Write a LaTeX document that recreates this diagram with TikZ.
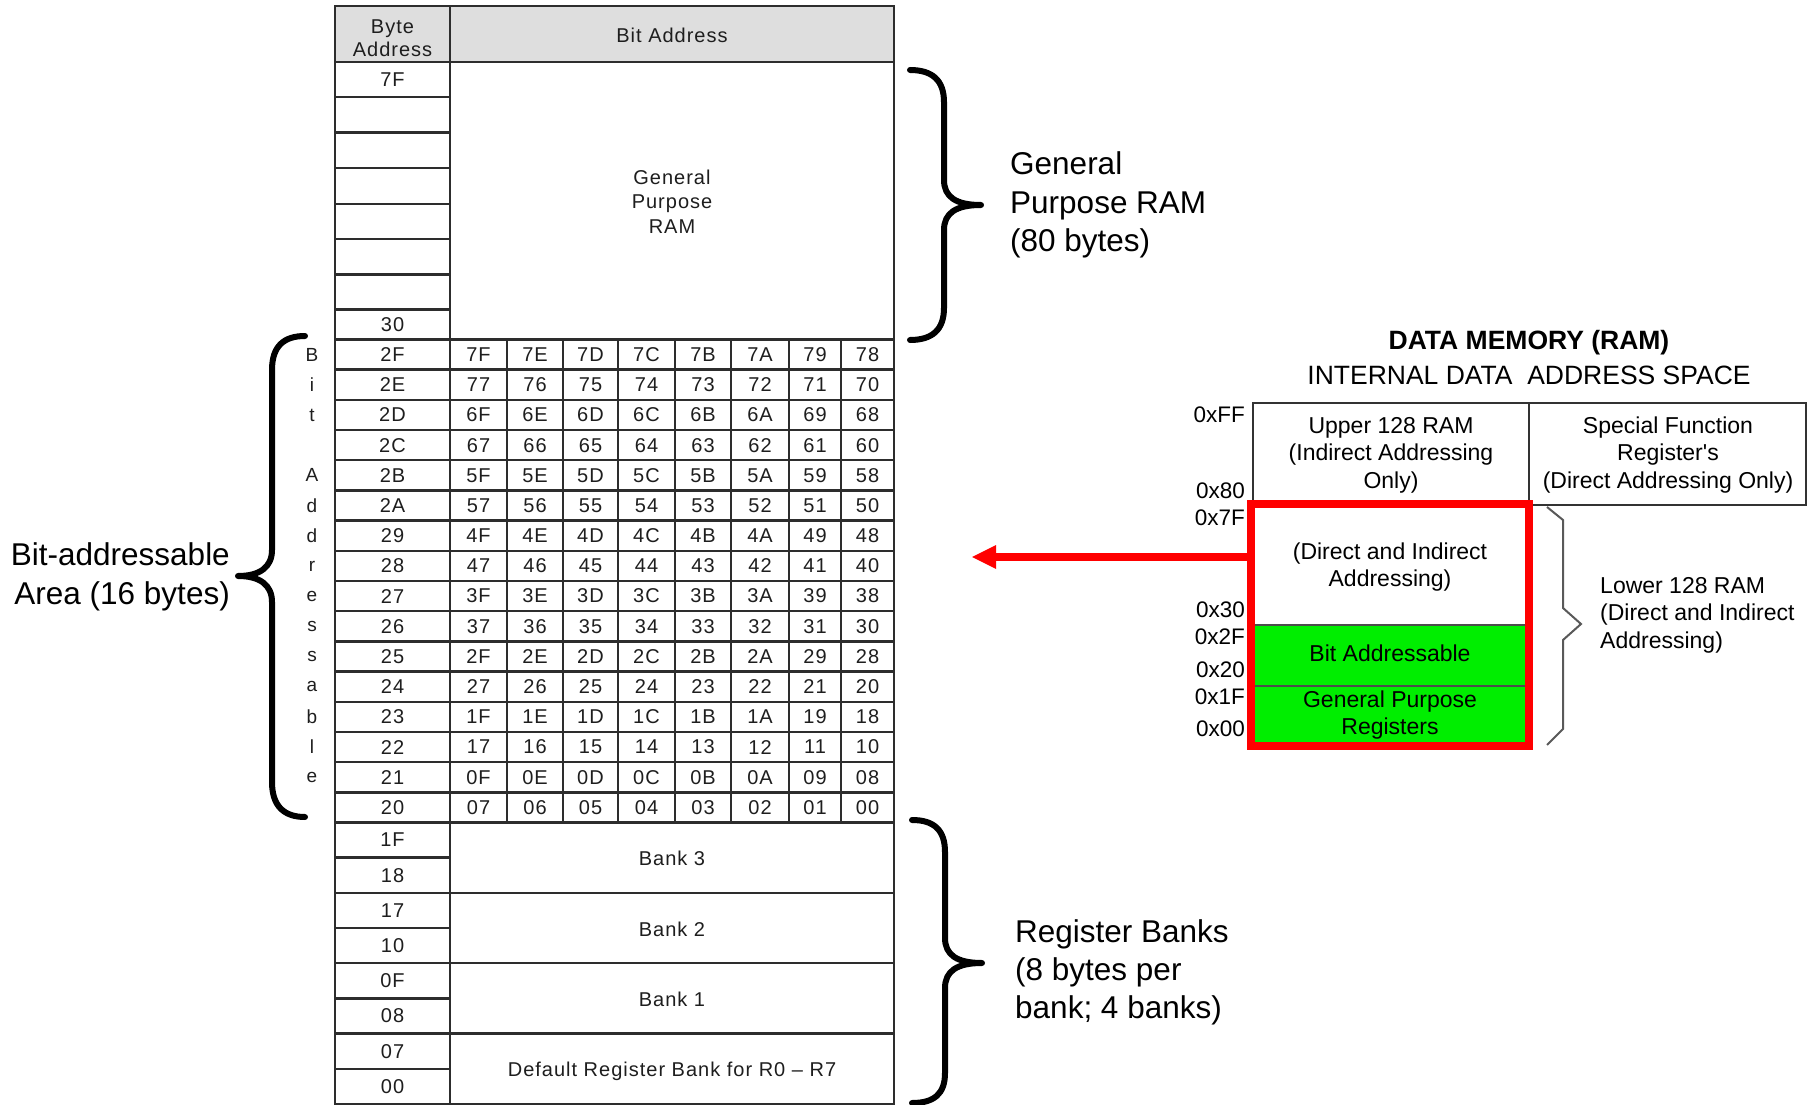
\documentclass[tikz,border=0pt]{standalone}
\usepackage{fontspec}
\setmainfont{Liberation Sans}
\newfontfamily\tabfont[LetterSpace=5]{Liberation Sans}
\newfontfamily\rawfont[Ligatures=TeXOff]{Liberation Sans}
\usetikzlibrary{arrows.meta}
\definecolor{redc}{RGB}{255,0,0}
\definecolor{greenc}{RGB}{0,238,0}
\definecolor{hdr}{RGB}{222,222,222}
\definecolor{gridc}{RGB}{45,45,45}
\definecolor{txtc}{RGB}{30,30,30}
\begin{document}
\begin{tikzpicture}[x=1pt,y=-1pt,
  grid/.style={line width=2.4pt, draw=gridc},
  tab/.style={font=\tabfont\fontsize{20}{24.6}\selectfont, inner sep=0pt, text=txtc, align=center},
  vlet/.style={font=\tabfont\fontsize{19}{22}\selectfont, inner sep=0pt, text=txtc},
  big/.style={font=\fontsize{31.5}{38.5}\selectfont, inner sep=0pt},
  mem/.style={font=\fontsize{23}{27.5}\selectfont, inner sep=0pt, align=center},
  addr/.style={font=\fontsize{22.5}{27}\selectfont, inner sep=0pt, anchor=east},
  bracestyle/.style={line width=6pt, line cap=round, line join=round, draw=black},
  thinbrace/.style={line width=2pt, draw=black!65},
  boxline/.style={line width=2pt, draw=black!80}]
\useasboundingbox (0,0) rectangle (1816,1105);
\fill[white] (0,0) rectangle (1816,1105);

% ---------------- table ----------------
\fill[hdr] (335,6) rectangle (894,62);
\draw[grid] (335,6) rectangle (894,1104);
\draw[grid] (450,6) -- (450,1104);
\draw[grid] (335,62) -- (894,62);
\foreach \y in {97,132.5,168,204,239,274.5,309.5} \draw[grid] (335,\y) -- (450,\y);
\draw[grid] (335,339.5) -- (894,339.5);
\foreach \k in {1,...,16} {\pgfmathsetmacro\yy{339.5+30.1875*\k} \draw[grid] (335,\yy) -- (894,\yy);}
\foreach \x in {507,563,618,675,731,789,841} \draw[grid] (\x,339.5) -- (\x,822.5);
\foreach \k in {1,3,5,7} {\pgfmathsetmacro\yy{822.5+35.1875*\k} \draw[grid] (335,\yy) -- (450,\yy);}
\foreach \k in {2,4,6} {\pgfmathsetmacro\yy{822.5+35.1875*\k} \draw[grid] (335,\yy) -- (894,\yy);}

\node[tab, font=\tabfont\fontsize{20}{23.5}\selectfont] (hbyte) at (392.5,38) {Byte\\Address};
\node[tab] (hbit) at (672,35.5) {Bit Address};
\node[tab] (r7F) at (392.5,79.5) {7F};
\node[tab] (r30) at (392.5,324.5) {30};
\node[tab] (gpram) at (672,201.5) {General\\Purpose\\RAM};

\def\listA{F/478.5,E/535,D/590.5,C/646.5,B/703,A/760,9/815,8/867.5}
\def\listB{7/478.5,6/535,5/590.5,4/646.5,3/703,2/760,1/815,0/867.5}
\foreach \byte/\d/\h [count=\r from 0] in {2F/7/1,2E/7/0,2D/6/1,2C/6/0,2B/5/1,2A/5/0,29/4/1,28/4/0,27/3/1,26/3/0,25/2/1,24/2/0,23/1/1,22/1/0,21/0/1,20/0/0}{
  \pgfmathsetmacro\yc{339.5+30.1875*(\r+0.5)}
  \node[tab] (by\byte) at (392.5,\yc) {\byte};
  \ifnum\h=1 \let\sufs\listA \else \let\sufs\listB \fi
  \foreach \s/\cx in \sufs {\node[tab] (b\d\s) at (\cx,\yc) {\d\s};}
}
\foreach \r/\L in {0/B,1/i,2/t,4/A,5/d,6/d,7/r,8/e,9/s,10/s,11/a,12/b,13/l,14/e}{
  \pgfmathsetmacro\yc{339.5+30.1875*(\r+0.5)}
  \node[vlet] (v\r) at (312,\yc) {\L};
}
\foreach \b [count=\k from 0] in {1F,18,17,10,0F,08,07,00}{
  \pgfmathsetmacro\yc{822.5+35.1875*(\k+0.5)}
  \node[tab] (bk\b) at (392.5,\yc) {\b};
}
\node[tab] (bank3) at (672,858.5) {Bank 3};
\node[tab] (bank2) at (672,929) {Bank 2};
\node[tab] (bank1) at (672,999.5) {Bank 1};
\node[tab] (bank0) at (672,1071) {Default Register Bank for R0 – R7};

% ---------------- braces and labels ----------------
\draw[bracestyle] (305,336) .. controls (284,336) and (272,346) .. (272,370) -- (272,550)
  .. controls (272,567) and (260,576) .. (238,576) .. controls (260,576) and (272,585) .. (272,602)
  -- (272,782) .. controls (272,806) and (284,817) .. (305,817);
\node[big, anchor=east, align=right] (bitlabel) at (230,577) {Bit-addressable\\Area (16 bytes)};

\draw[bracestyle] (910,70) .. controls (932,70) and (944,80) .. (944,102) -- (944,180)
  .. controls (944,197) and (956,205) .. (981,205) .. controls (956,205) and (944,213) .. (944,230)
  -- (944,308) .. controls (944,330) and (932,340) .. (910,340);
\node[big, anchor=west, align=left] (gplabel) at (1010,205) {General\\Purpose RAM\\(80 bytes)};

\draw[bracestyle] (912,820) .. controls (934,820) and (945,830) .. (945,852) -- (945,938)
  .. controls (945,955) and (957,963) .. (982,963) .. controls (957,963) and (945,971) .. (945,988)
  -- (945,1073) .. controls (945,1094) and (934,1103) .. (912,1103);
\node[big, anchor=west, align=left, font=\fontsize{31.5}{38}\selectfont] (rblabel) at (1015,972) {Register Banks\\(8 bytes per\\bank; 4 banks)};

% ---------------- memory map ----------------
\node[inner sep=0pt, font=\bfseries\fontsize{26.5}{30}\selectfont] (title) at (1529,343) {DATA MEMORY (RAM)};
\node[inner sep=0pt, font=\fontsize{26.5}{30}\selectfont] (subtitle) at (1529,375) {INTERNAL DATA\ \ ADDRESS SPACE};

\node[boxline, rectangle, minimum width=276pt, minimum height=102pt, inner sep=0pt] (upper) at (1391,454) {};
\node[boxline, rectangle, minimum width=277pt, minimum height=102pt, inner sep=0pt] (sfr) at (1667.5,454) {};
\node[mem] (uppertxt) at (1391,455) {Upper 128 RAM\\(Indirect Addressing\\Only)};
\node[mem, font=\rawfont\fontsize{23}{27.5}\selectfont] (sfrtxt) at (1668,455) {Special Function\\Register's\\(Direct Addressing Only)};

\fill[greenc] (1251,625) rectangle (1529,745.5);
\draw[line width=2pt, draw=black!70] (1251,625) -- (1529,625);
\draw[line width=2pt, draw=black!70] (1251,685.5) -- (1529,685.5);
\node[draw=redc, line width=8pt, rectangle, minimum width=278pt, minimum height=241.5pt, inner sep=0pt] (redbox) at (1390,624.75) {};
\node[mem] (dirtxt) at (1390,567) {(Direct and Indirect\\Addressing)};
\node[mem] (bittxt) at (1390,653) {Bit Addressable};
\node[mem] (gprtxt) at (1390,715) {General Purpose\\Registers};

\draw[thinbrace] (1547,507) -- (1563,520) -- (1563,608) -- (1581,624) -- (1563,640) -- (1563,729) -- (1547,745);
\node[mem, anchor=west, align=left] (lowertxt) at (1600,615) {Lower 128 RAM\\(Direct and Indirect\\Addressing)};

\node[addr] (aFF) at (1245,415) {0xFF};
\node[addr] (a80) at (1245,491) {0x80};
\node[addr] (a7F) at (1245,518) {0x7F};
\node[addr] (a30) at (1245,610) {0x30};
\node[addr] (a2F) at (1245,637) {0x2F};
\node[addr] (a20) at (1245,670) {0x20};
\node[addr] (a1F) at (1245,697) {0x1F};
\node[addr] (a00) at (1245,729) {0x00};

\coordinate (redL) at (1251,557);
\coordinate (arrowTip) at (972,557);
\draw[redc, line width=8pt, -{Triangle[length=24pt, width=24pt, line width=0pt]}] (redL) -- (arrowTip);
\end{tikzpicture}
\end{document}
